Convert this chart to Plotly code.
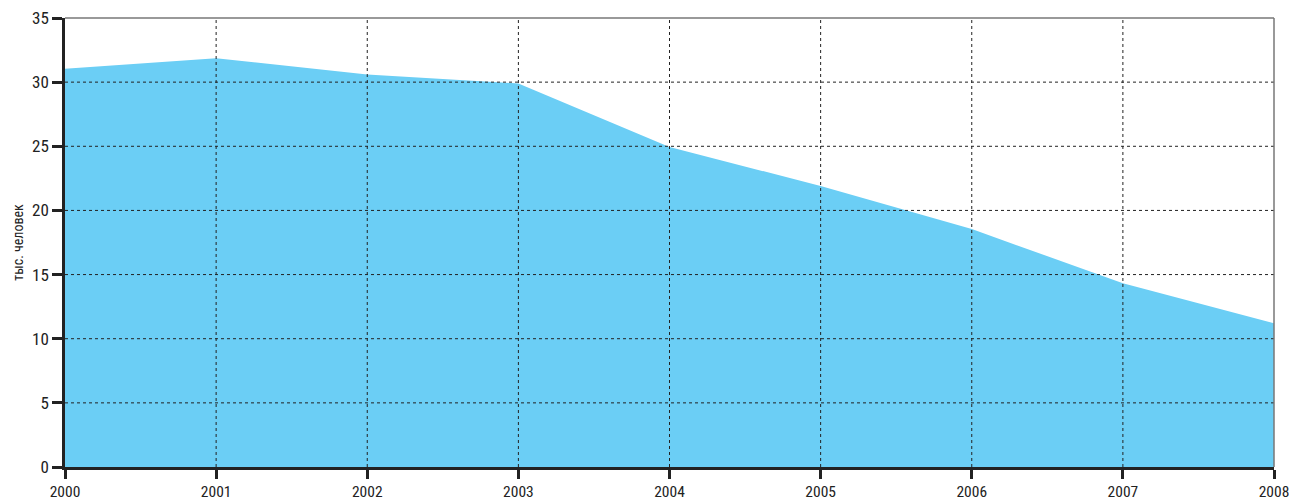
import plotly.graph_objects as go

years = [2000, 2001, 2002, 2003, 2004, 2005, 2006, 2007, 2008]
values = [31.05, 31.87, 30.6, 29.9, 24.95, 21.9, 18.55, 14.32, 11.2]
y_ticks = [0, 5, 10, 15, 20, 25, 30, 35]
y_title = "тыс. человек"

FONT = "Liberation Sans Narrow, Arial Narrow, Roboto Condensed, sans-serif"

fig = go.Figure()
fig.add_trace(go.Scatter(
    x=years, y=values, mode="lines", fill="tozeroy",
    fillcolor="#6bcef5", line=dict(width=0, color="#6bcef5"),
    hoverinfo="x+y", showlegend=False,
))

shapes = []
grid_style = dict(color="#222222", width=1, dash="3px,3px")
for yr in years[1:-1]:
    shapes.append(dict(type="line", xref="x", yref="paper", x0=yr, x1=yr, y0=0, y1=1,
                       line=grid_style, layer="above"))
for t in y_ticks[1:-1]:
    shapes.append(dict(type="line", xref="paper", yref="y", x0=0, x1=1, y0=t, y1=t,
                       line=grid_style, layer="above"))
# thin gray frame on top and right
shapes.append(dict(type="line", xref="paper", yref="paper", x0=0, x1=1, y0=1, y1=1,
                   line=dict(color="#777777", width=1.5), layer="above"))
shapes.append(dict(type="line", xref="paper", yref="paper", x0=1, x1=1, y0=0, y1=1,
                   line=dict(color="#777777", width=1.5), layer="above"))

fig.update_layout(
    width=1289, height=503,
    margin=dict(l=65, r=15, t=18, b=36, autoexpand=False),
    paper_bgcolor="white", plot_bgcolor="white",
    font=dict(family=FONT, size=17, color="#222222"),
    shapes=shapes,
    xaxis=dict(
        range=[2000, 2008], tickmode="array", tickvals=years,
        ticktext=[str(y) for y in years],
        showgrid=False, zeroline=False, automargin=False,
        ticklabeloverflow="allow",
        showline=True, linecolor="#222222", linewidth=2.5,
        ticks="outside", ticklen=9, tickwidth=2.5, tickcolor="#222222",
        tickfont=dict(family=FONT, size=15.5, color="#222222"),
        layer="above traces",
    ),
    yaxis=dict(
        range=[0, 35], tickmode="array", tickvals=y_ticks,
        showgrid=False, zeroline=False, automargin=False,
        showline=True, linecolor="#222222", linewidth=2.5,
        ticks="outside", ticklen=10, tickwidth=2.5, tickcolor="#222222",
        tickfont=dict(family=FONT, size=17, color="#222222"),
        title=dict(text=y_title, font=dict(family=FONT, size=14, color="#222222"), standoff=6),
        layer="above traces",
    ),
)

fig.write_html(
    "out.html",
    config={"displayModeBar": False},
    post_script="document.body.style.margin='0';document.body.style.overflow='hidden';",
)
